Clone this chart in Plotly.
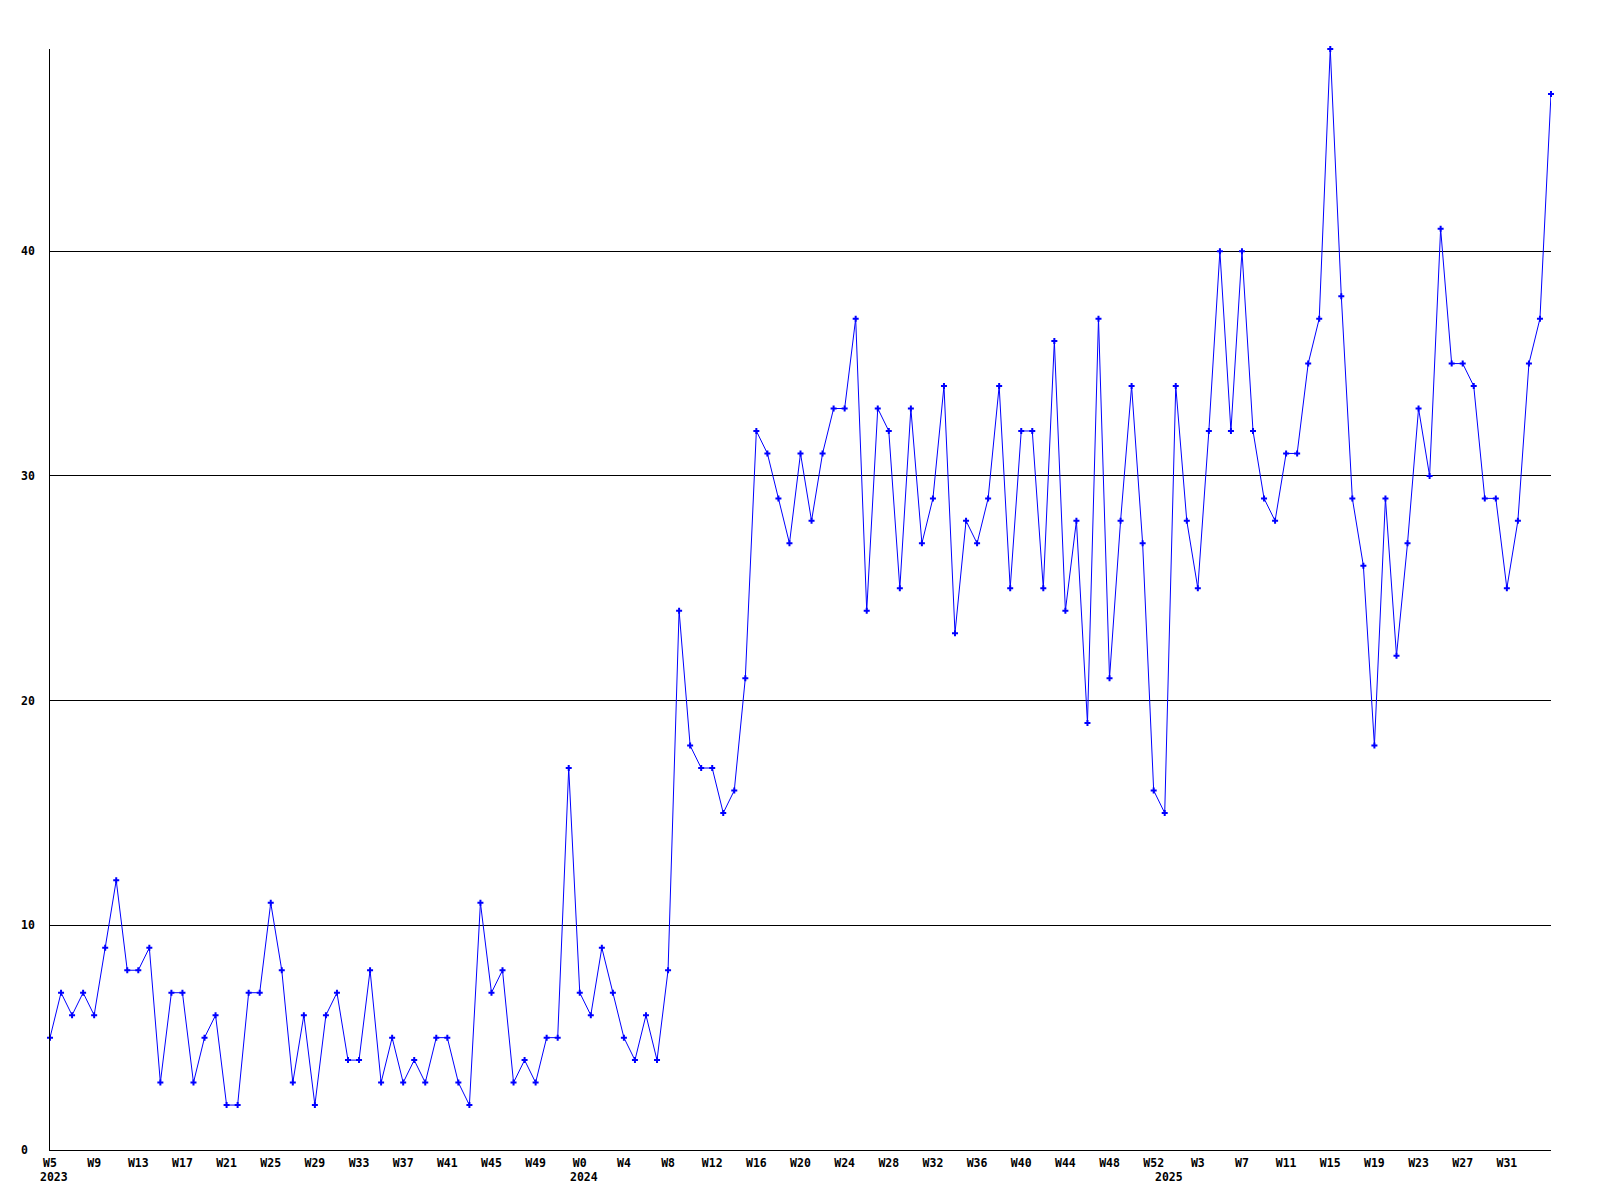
import plotly.graph_objects as go

# Weekly values, 2023 W5 .. 2025 W35
values = [
    5, 7, 6, 7, 6, 9, 12, 8, 8, 9, 3, 7, 7, 3, 5, 6, 2, 2, 7, 7,
    11, 8, 3, 6, 2, 6, 7, 4, 4, 8, 3, 5, 3, 4, 3, 5, 5, 3, 2, 11,
    7, 8, 3, 4, 3, 5, 5, 17,
    7, 6, 9, 7, 5, 4, 6, 4, 8, 24, 18, 17, 17, 15, 16, 21, 32, 31, 29, 27,
    31, 28, 31, 33, 33, 37, 24, 33, 32, 25, 33, 27, 29, 34, 23, 28, 27, 29,
    34, 25, 32, 32, 25, 36, 24, 28, 19, 37, 21, 28, 34, 27, 16, 15,
    34, 28, 25, 32, 40, 32, 40, 32, 29, 28, 31, 31, 35, 37, 49, 38, 29, 26,
    18, 29, 22, 27, 33, 30, 41, 35, 35, 34, 29, 29, 25, 28, 35, 37, 47,
]

years = [2023, 2024, 2025]
year_weeks = [list(range(5, 53)), list(range(0, 53)), list(range(0, 36))]

week_labels = []
year_start = []
for yr, wks in zip(years, year_weeks):
    year_start.append(len(week_labels))
    week_labels += [f"W{w}" for w in wks]

x = list(range(len(values)))
tick_idx = list(range(0, 133, 4))
tick_text = [week_labels[i] for i in tick_idx]

y_ticks = [0, 10, 20, 30, 40]

font_family = "DejaVu Sans Mono"
lab_font = dict(family=font_family, size=11.5, color="black", weight="bold")

fig = go.Figure()
fig.add_trace(go.Scatter(
    x=x, y=values, mode="lines+markers",
    line=dict(color="#0000FF", width=1),
    marker=dict(symbol="cross", size=5, color="#0000FF", line=dict(width=0)),
    cliponaxis=False,
    hoverinfo="skip",
))

for yr, idx in zip(years, year_start):
    fig.add_annotation(
        x=idx, xref="x", y=0, yref="paper",
        text=str(yr), showarrow=False,
        xanchor="left", yanchor="middle", xshift=-12, yshift=-27,
        font=lab_font,
    )

for v in y_ticks:
    fig.add_annotation(
        x=0, xref="paper", y=v, yref="y",
        text=str(v), showarrow=False,
        xanchor="left", yanchor="middle", xshift=-31,
        font=lab_font,
    )

fig.update_layout(
    width=1584, height=1184,
    margin=dict(l=42, r=41, t=41, b=42),
    paper_bgcolor="white", plot_bgcolor="white",
    showlegend=False,
    xaxis=dict(
        range=[0, len(values) - 1],
        tickmode="array", tickvals=tick_idx, ticktext=tick_text,
        showgrid=False, zeroline=False,
        showline=True, linecolor="black", linewidth=1,
        ticks="", ticklabelstandoff=2,
        tickfont=lab_font,
    ),
    yaxis=dict(
        range=[0, 49],
        tickmode="array", tickvals=y_ticks,
        showticklabels=False,
        showgrid=True, gridcolor="black", gridwidth=1,
        zeroline=False,
        showline=True, linecolor="black", linewidth=1,
        ticks="",
    ),
)

fig.write_html("out.html")
